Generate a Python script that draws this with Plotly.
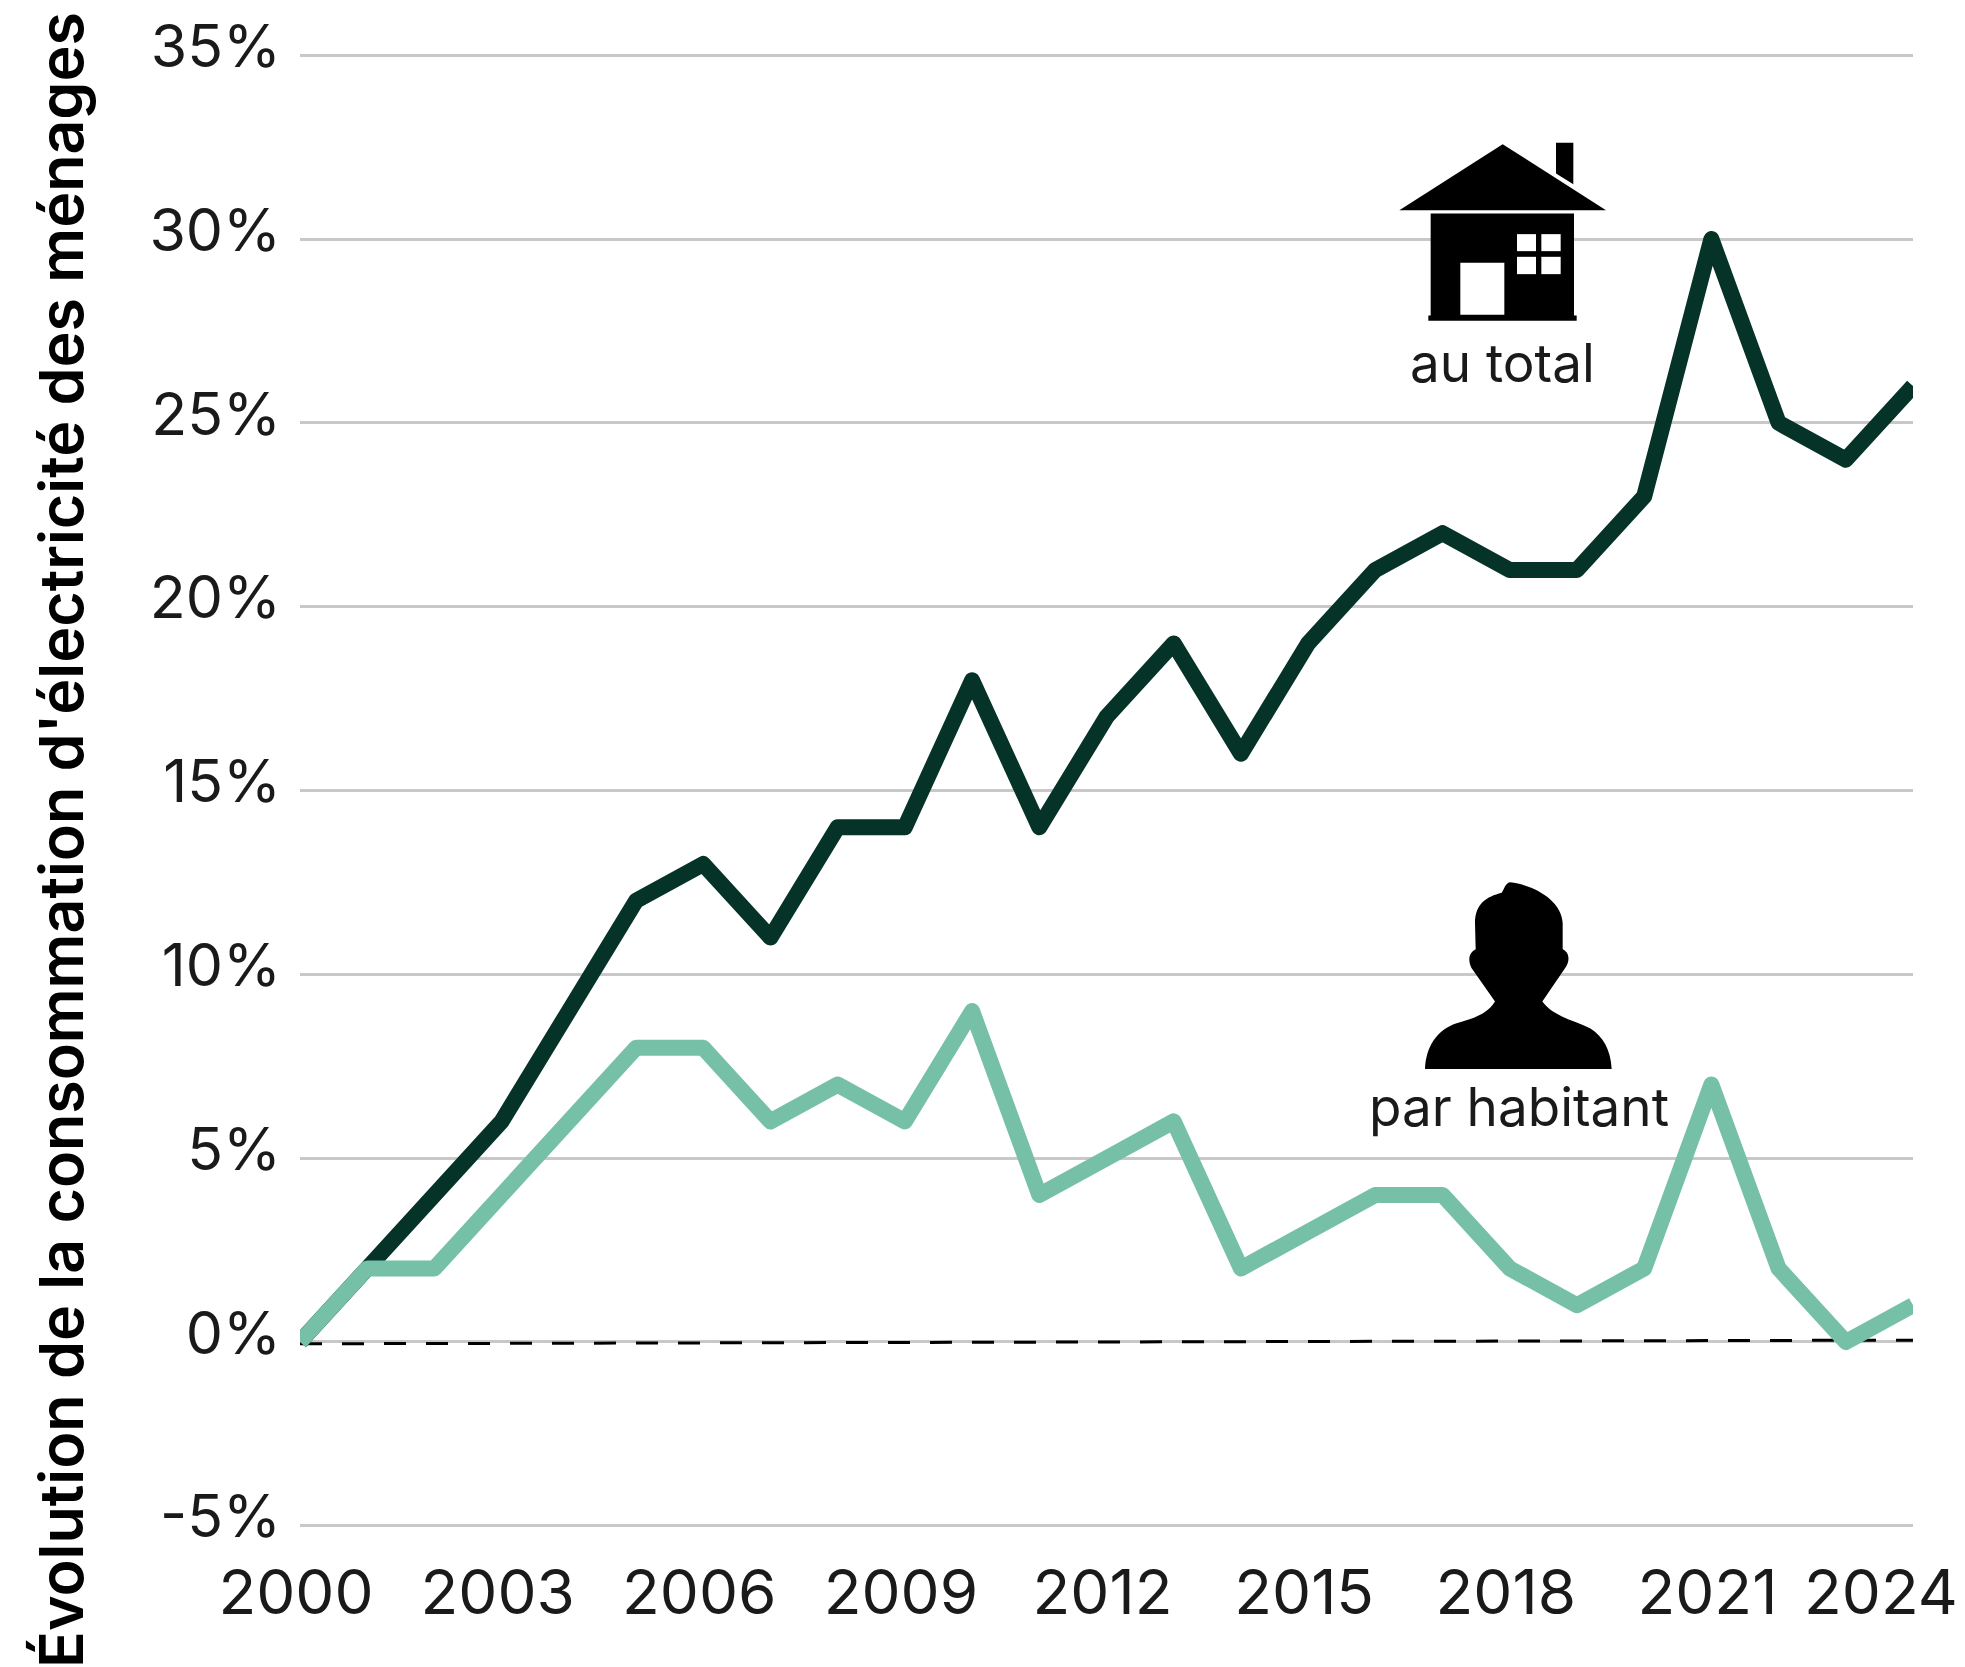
import plotly.graph_objects as go

years = list(range(2000, 2025))
total = [0, 2, 4, 6, 9, 12, 13, 11, 14, 14, 18, 14, 17, 19, 16, 19, 21, 22, 21, 21, 23, 30, 25, 24, 26]
par_habitant = [0, 2, 2, 4, 6, 8, 8, 6, 7, 6, 9, 4, 5, 6, 2, 3, 4, 4, 2, 1, 2, 7, 2, 0, 1]
reference_x = [2000, 2024.09]
reference_y = [-0.05, 0.05]
y_ticks = [-5, 0, 5, 10, 15, 20, 25, 30, 35]
y_labels = ["-5%", "0%", "5%", "10%", "15%", "20%", "25%", "30%", "35%"]
x_ticks = [2000, 2003, 2006, 2009, 2012, 2015, 2018, 2021]
x_labels = ["2000", "2003", "2006", "2009", "2012", "2015", "2018", "2021"]
last_year_label = "2024"
y_title = "Évolution de la consommation d'électricité des ménages"
label_total = "au total"
label_habitant = "par habitant"

W, H = 1965, 1667
L, R, T, B = 300, 1913, 52.8, 1528.2
FONT = "Inter"
TXT = "#1a1a1a"
DARK = "#063327"
GREEN = "#75c0a6"


def px(x, y):
    return (x - L) / (R - L), (B - y) / (B - T)


def path(cmds, ox, oy, s=1 / 3):
    """Icon outline given in zoomed-crop units, converted to paper coordinates."""
    out = []
    for c in cmds:
        if isinstance(c, str):
            out.append(c)
        else:
            a, b = px(ox + c[0] * s, oy + c[1] * s)
            out.append(f"{a:.5f},{b:.5f}")
    return " ".join(out)


def icon(cmds, ox, oy, color):
    return dict(type="path", xref="paper", yref="paper", path=path(cmds, ox, oy),
                fillcolor=color, line=dict(width=0), layer="above")


def box(x0, y0, x1, y1):
    return ["M", (x0, y0), "L", (x1, y0), "L", (x1, y1), "L", (x0, y1), "Z"]


HX, HY = 1360, 120
house = [
    (["M", (428, 72), "L", (738, 270), "L", (118, 270), "Z"], "#000"),
    (["M", (588, 68), "L", (640, 68), "L", (640, 192), "L", (588, 160), "Z"], "#000"),
    (box(212, 280, 642, 590), "#000"),
    (box(205, 586, 650, 602), "#000"),
    (box(301, 428, 433, 584), "#fff"),
    (box(471, 342, 528, 393), "#fff"),
    (box(544, 342, 602, 393), "#fff"),
    (box(471, 410, 528, 462), "#fff"),
    (box(544, 410, 602, 462), "#fff"),
]
person = ["M", (255, 627), "C", (258, 560), (290, 510), (350, 490),
          "C", (400, 475), (440, 465), (465, 425), "L", (395, 325),
          "C", (385, 305), (383, 280), (407, 268), "L", (405, 190),
          "C", (405, 130), (440, 110), (485, 98), "C", (492, 90), (495, 70), (510, 67),
          "C", (580, 75), (665, 120), (668, 190), "L", (668, 268),
          "C", (690, 278), (690, 305), (675, 325), "L", (607, 425),
          "C", (640, 470), (700, 480), (750, 505), "C", (790, 530), (812, 570), (815, 627), "Z"]

shapes = [icon(c, HX, HY, col) for c, col in house]
shapes.append(icon(person, 1340, 860, "#000"))

fig = go.Figure()
fig.add_trace(go.Scatter(x=reference_x, y=reference_y, mode="lines", cliponaxis=False,
                         line=dict(color="#000", width=3, dash="22px,20px"),
                         showlegend=False, hoverinfo="skip"))
fig.add_trace(go.Scatter(x=years, y=total, mode="lines", line=dict(color=DARK, width=16),
                         showlegend=False, hoverinfo="skip"))
fig.add_trace(go.Scatter(x=years, y=par_habitant, mode="lines", line=dict(color=GREEN, width=16),
                         showlegend=False, hoverinfo="skip"))

annotations = [
    dict(text=y_title, textangle=-90, xref="paper", yref="paper", x=px(61, 0)[0], y=px(0, 840)[1],
         xanchor="center", yanchor="middle", showarrow=False,
         font=dict(family=FONT, size=60.9, color="#000", weight=600)),
    dict(text=label_total, xref="paper", yref="paper", x=px(1502, 0)[0], y=px(0, 363)[1],
         xanchor="center", yanchor="middle", showarrow=False,
         font=dict(family=FONT, size=53, color=TXT)),
    dict(text=label_habitant, xref="paper", yref="paper", x=px(1519, 0)[0], y=px(0, 1107)[1],
         xanchor="center", yanchor="middle", showarrow=False,
         font=dict(family=FONT, size=53, color=TXT)),
    dict(text=last_year_label, xref="x", yref="paper", x=2024, y=0, xshift=-32, yshift=-24,
         xanchor="center", yanchor="top", showarrow=False,
         font=dict(family=FONT, size=62, color=TXT)),
]

fig.update_layout(
    width=W, height=H, paper_bgcolor="#fff", plot_bgcolor="#fff",
    margin=dict(l=L, r=W - R, t=T, b=H - B),
    shapes=shapes, annotations=annotations, showlegend=False,
    font=dict(family=FONT, color=TXT),
    xaxis=dict(range=[2000, 2024], tickmode="array", tickvals=x_ticks, ticktext=x_labels,
               showgrid=False, zeroline=False, showline=False, ticks="", automargin=False,
               ticklabelstandoff=23, ticklabelshift=-4,
               tickfont=dict(family=FONT, size=62, color=TXT), tickangle=0),
    yaxis=dict(range=[-5.06, 35.06], tickmode="array", tickvals=y_ticks, ticktext=y_labels,
               showgrid=True, gridcolor="#c8c8c8", gridwidth=2.5, zeroline=False, showline=False,
               ticks="", automargin=False, ticklabelstandoff=18, ticklabelshift=-9,
               tickfont=dict(family=FONT, size=59, color=TXT)),
)
post = ("document.body.style.margin='0';document.body.style.overflow='hidden';"
        "document.querySelectorAll('.js-line').forEach(function(e){e.style.strokeLinejoin='round';});")
fig.write_html("out.html", config={"displayModeBar": False}, post_script=post)
